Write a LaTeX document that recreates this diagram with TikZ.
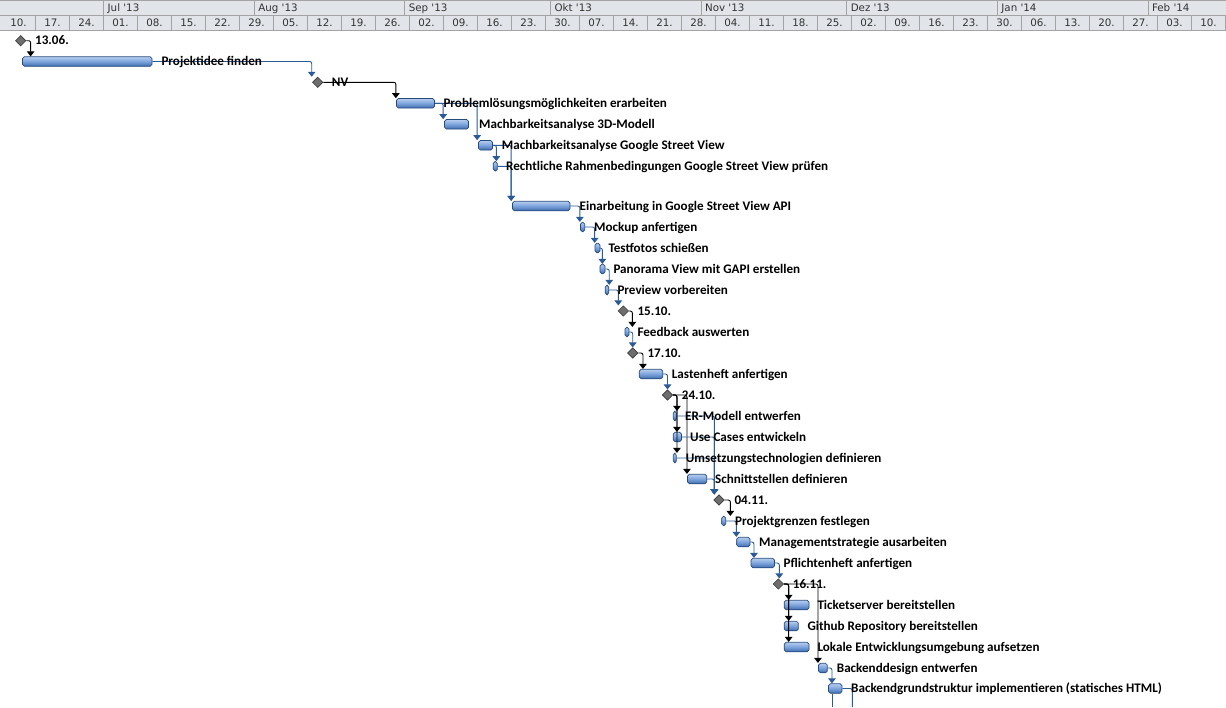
\documentclass[tikz,border=0pt]{standalone}
\usepackage{fontspec}
\usetikzlibrary{shapes.geometric,arrows.meta}
\newfontfamily\hdrfont{DejaVu Sans}[Ligatures=TeXOff]
\newfontfamily\taskfont{Carlito}
\definecolor{hdrfill}{HTML}{E1E4E9}
\definecolor{hdrline}{HTML}{A3A3A3}
\definecolor{hdrtext}{HTML}{333333}
\definecolor{linkblue}{HTML}{2A5A98}
\definecolor{bartop}{HTML}{B6CDEE}
\definecolor{barmid}{HTML}{7BA3DB}
\definecolor{barbot}{HTML}{3F6CAE}
\definecolor{baredge}{HTML}{254A7E}
\definecolor{msfill}{HTML}{6E6E6E}
\definecolor{msedge}{HTML}{3A3A3A}
\tikzset{
  taskbar/.style={rectangle, inner sep=0pt, minimum height=9.5pt, rounded corners=1.8pt,
    draw=baredge, line width=0.7pt, top color=bartop, bottom color=barbot, middle color=barmid},
  milestone/.style={diamond, inner sep=0pt, minimum width=10.5pt, minimum height=10.5pt,
    fill=msfill, draw=msedge, line width=0.6pt},
  tasklabel/.style={anchor=base west, inner sep=0pt, text=black,
    font=\taskfont\bfseries\fontsize{13.1}{15}\selectfont},
  hdrlabel/.style={inner sep=0pt, text=hdrtext, font=\hdrfont\fontsize{10.3}{12}\selectfont},
  bluelink/.style={draw=linkblue, line width=0.9pt, rounded corners=2pt,
    -{Triangle[width=7.5pt,length=5pt]}},
  blacklink/.style={draw=black, line width=0.9pt, rounded corners=2pt,
    -{Triangle[width=7.5pt,length=5pt]}},
  openlink/.style={draw=linkblue, line width=0.9pt, rounded corners=2pt},
}
\begin{document}
\begin{tikzpicture}[x=1pt,y=-1pt]
\useasboundingbox (0,0) rectangle (1226,707);

% ---------- timescale header ----------
\fill[hdrfill] (0,0) rectangle (1226,30);
\draw[hdrline] (0,0.5) -- (1226,0.5);
\draw[hdrline] (0,15) -- (1226,15);
\draw[hdrline, line width=1pt] (0,30) -- (1226,30);
\foreach \k in {1,...,36} \draw[hdrline] (1.5+34*\k,15) -- (1.5+34*\k,30);
\foreach \mx/\lbl [count=\i] in {103.5/Jul '13, 254.1/Aug '13, 404.6/Sep '13, 550.4/Okt '13,
    700.9/Nov '13, 846.6/Dez '13, 997.2/Jan '14, 1147.8/Feb '14} {
  \draw[hdrline] (\mx,0) -- (\mx,15);
  \node[hdrlabel, anchor=base west] (mon\i) at (\mx+4,11.5) {\lbl};
}
\foreach \lbl [count=\k from 0] in {10.,17.,24.,01.,08.,15.,22.,29.,05.,12.,19.,26.,
    02.,09.,16.,23.,30.,07.,14.,21.,28.,04.,11.,18.,25.,02.,09.,16.,23.,30.,
    06.,13.,20.,27.,03.,10.} {
  \node[hdrlabel, anchor=base] (wk\k) at (18.5+34*\k,26.5) {\lbl};
}

% ---------- task bars ----------
\node[taskbar, minimum width=129.5pt] (pid)    at (87.25,61.5) {};
\node[taskbar, minimum width=38pt]    (prob)   at (415.5,103.3) {};
\node[taskbar, minimum width=24pt]    (m3d)    at (456.5,124.3) {};
\node[taskbar, minimum width=14pt]    (gsv)    at (485.5,145.3) {};
\node[taskbar, minimum width=4pt]     (recht)  at (495.3,166.3) {};
\node[taskbar, minimum width=57.5pt]  (einarb) at (541.25,206) {};
\node[taskbar, minimum width=4.2pt]   (mock)   at (582.6,227) {};
\node[taskbar, minimum width=5pt]     (tf)     at (597.5,248) {};
\node[taskbar, minimum width=5pt]     (pano)   at (602.5,269) {};
\node[taskbar, minimum width=3.5pt]   (prev)   at (607,290) {};
\node[taskbar, minimum width=4pt]     (feed)   at (627,332) {};
\node[taskbar, minimum width=23.4pt]  (lasten) at (651,374) {};
\node[taskbar, minimum width=3pt]     (er)     at (674.8,416) {};
\node[taskbar, minimum width=8.2pt]   (uc)     at (677.4,437) {};
\node[taskbar, minimum width=3pt]     (ums)    at (674.8,458) {};
\node[taskbar, minimum width=19.2pt]  (schn)   at (697.1,479) {};
\node[taskbar, minimum width=4pt]     (pgr)    at (723.7,521) {};
\node[taskbar, minimum width=13.3pt]  (mgmt)   at (743.35,542) {};
\node[taskbar, minimum width=23.5pt]  (pfl)    at (762.75,563) {};
\node[taskbar, minimum width=24.7pt]  (tick)   at (796.65,605) {};
\node[taskbar, minimum width=14pt]    (git)    at (791.3,626) {};
\node[taskbar, minimum width=24.7pt]  (lok)    at (796.65,647) {};
\node[taskbar, minimum width=8.8pt]   (bdes)   at (822.9,668) {};
\node[taskbar, minimum width=13.5pt]  (bgr)    at (835.25,688.5) {};

% ---------- milestones ----------
\node[milestone] (ms1306) at (20.7,40.7) {};
\node[milestone] (msnv)   at (317.7,82.3) {};
\node[milestone] (ms1510) at (623.3,311) {};
\node[milestone] (ms1710) at (632.7,353) {};
\node[milestone] (ms2410) at (667.5,395) {};
\node[milestone] (ms0411) at (719,500) {};
\node[milestone] (ms1611) at (778.3,584) {};

% ---------- links ----------
\coordinate (off1) at (832.3,707);
\coordinate (off2) at (852.3,707);
\draw[blacklink] (ms1306.east) -| ([xshift=8.5pt]pid.north west);
\draw[bluelink]  (pid.east)    -| ([xshift=-6pt]msnv.north);
\draw[blacklink] (msnv.east)   -| ([xshift=-0.3pt]prob.north west);
\draw[bluelink]  (prob.east)   -| ([xshift=-1pt]m3d.north west);
\draw[bluelink]  (prob.east)   -| ([xshift=-1pt]gsv.north west);
\draw[bluelink]  (gsv.east)    -| ([xshift=3.4pt]recht.north west);
\draw[bluelink]  (gsv.east)    -| ([xshift=-1pt]einarb.north west);
\draw[bluelink]  (recht.east)  -| ([xshift=-1pt]einarb.north west);
\draw[bluelink]  (einarb.east) -| ([xshift=-0.3pt]mock.north west);
\draw[bluelink]  (mock.east)   -| ([xshift=0pt]tf.north west);
\draw[bluelink]  (tf.east)     -| ([xshift=2.7pt]pano.north west);
\draw[bluelink]  (pano.east)   -| ([xshift=4.3pt]prev.north west);
\draw[bluelink]  (prev.east)   -| ([xshift=-5pt]ms1510.north);
\draw[blacklink] (ms1510.east) -| ([xshift=7.7pt]feed.north west);
\draw[bluelink]  (feed.east)   -| (ms1710.north);
\draw[blacklink] (ms1710.east) -| ([xshift=4pt]lasten.north west);
\draw[bluelink]  (lasten.east) -| (ms2410.north);
\draw[blacklink] (ms2410.east) -| ([xshift=4pt]er.north west);
\draw[blacklink] (ms2410.east) -| ([xshift=4pt]uc.north west);
\draw[blacklink] (ms2410.east) -| ([xshift=4pt]ums.north west);
\draw[blacklink] (ms2410.east) -| ([xshift=-0.2pt]schn.north west);
\draw[bluelink]  (er.east)     -| ([xshift=-4.7pt]ms0411.north);
\draw[bluelink]  (uc.east)     -| ([xshift=-4.7pt]ms0411.north);
\draw[bluelink]  (ums.east)    -| ([xshift=-4.7pt]ms0411.north);
\draw[bluelink]  (schn.east)   -| ([xshift=-4.7pt]ms0411.north);
\draw[blacklink] (ms0411.east) -| ([xshift=9pt]pgr.north west);
\draw[bluelink]  (pgr.east)    -| (mgmt.north west);
\draw[bluelink]  (mgmt.east)   -| ([xshift=3.3pt]pfl.north west);
\draw[bluelink]  (pfl.east)    -| ([xshift=1pt]ms1611.north);
\draw[blacklink] (ms1611.east) -| ([xshift=4.7pt]tick.north west);
\draw[blacklink] (ms1611.east) -| ([xshift=4.7pt]git.north west);
\draw[blacklink] (ms1611.east) -| ([xshift=4.7pt]lok.north west);
\draw[blacklink] (ms1611.east) -| ([xshift=-0.2pt]bdes.north west);
\draw[bluelink]  (bdes.east)   -| ([xshift=3.8pt]bgr.north west);
\draw[openlink]  (bgr.south -| off1) -- (off1);
\draw[openlink]  (bgr.east) -| (off2);

% ---------- labels ----------
\node[tasklabel] (t1306) at (35,44.7) {13.06.};
\node[tasklabel] (tpid) at (161.3,65.5) {Projektidee finden};
\node[tasklabel] (tnv) at (331.7,86.3) {NV};
\node[tasklabel] (tprob) at (443.3,107.3) {Problemlösungsmöglichkeiten erarbeiten};
\node[tasklabel] (tm3d) at (479,128.3) {Machbarkeitsanalyse 3D-Modell};
\node[tasklabel] (tgsv) at (501.7,149.3) {Machbarkeitsanalyse Google Street View};
\node[tasklabel] (trecht) at (506,170.3) {Rechtliche Rahmenbedingungen Google Street View prüfen};
\node[tasklabel] (teinarb) at (579.5,210) {Einarbeitung in Google Street View API};
\node[tasklabel] (tmock) at (594,231) {Mockup anfertigen};
\node[tasklabel] (ttf) at (608.3,252) {Testfotos schießen};
\node[tasklabel] (tpano) at (613.3,273) {Panorama View mit GAPI erstellen};
\node[tasklabel] (tprev) at (617.3,294) {Preview vorbereiten};
\node[tasklabel] (t1510) at (637.3,315) {15.10.};
\node[tasklabel] (tfeed) at (637.3,336) {Feedback auswerten};
\node[tasklabel] (t1710) at (647.3,357) {17.10.};
\node[tasklabel] (tlasten) at (671.7,378) {Lastenheft anfertigen};
\node[tasklabel] (t2410) at (681.7,399) {24.10.};
\node[tasklabel] (ter) at (685,420) {ER-Modell entwerfen};
\node[tasklabel] (tuc) at (690,441) {Use Cases entwickeln};
\node[tasklabel] (tums) at (685.7,462) {Umsetzungstechnologien definieren};
\node[tasklabel] (tschn) at (715,483) {Schnittstellen definieren};
\node[tasklabel] (t0411) at (734.3,504) {04.11.};
\node[tasklabel] (tpgr) at (735,525) {Projektgrenzen festlegen};
\node[tasklabel] (tmgmt) at (759,546) {Managementstrategie ausarbeiten};
\node[tasklabel] (tpfl) at (783.3,567) {Pflichtenheft anfertigen};
\node[tasklabel] (t1611) at (792.7,588) {16.11.};
\node[tasklabel] (ttick) at (817.3,609) {Ticketserver bereitstellen};
\node[tasklabel] (tgit) at (807.3,630) {Github Repository bereitstellen};
\node[tasklabel] (tlok) at (817.3,651) {Lokale Entwicklungsumgebung aufsetzen};
\node[tasklabel] (tbdes) at (836.7,672) {Backenddesign entwerfen};
\node[tasklabel] (tbgr) at (851,692.5) {Backendgrundstruktur implementieren (statisches HTML)};
\end{tikzpicture}
\end{document}
